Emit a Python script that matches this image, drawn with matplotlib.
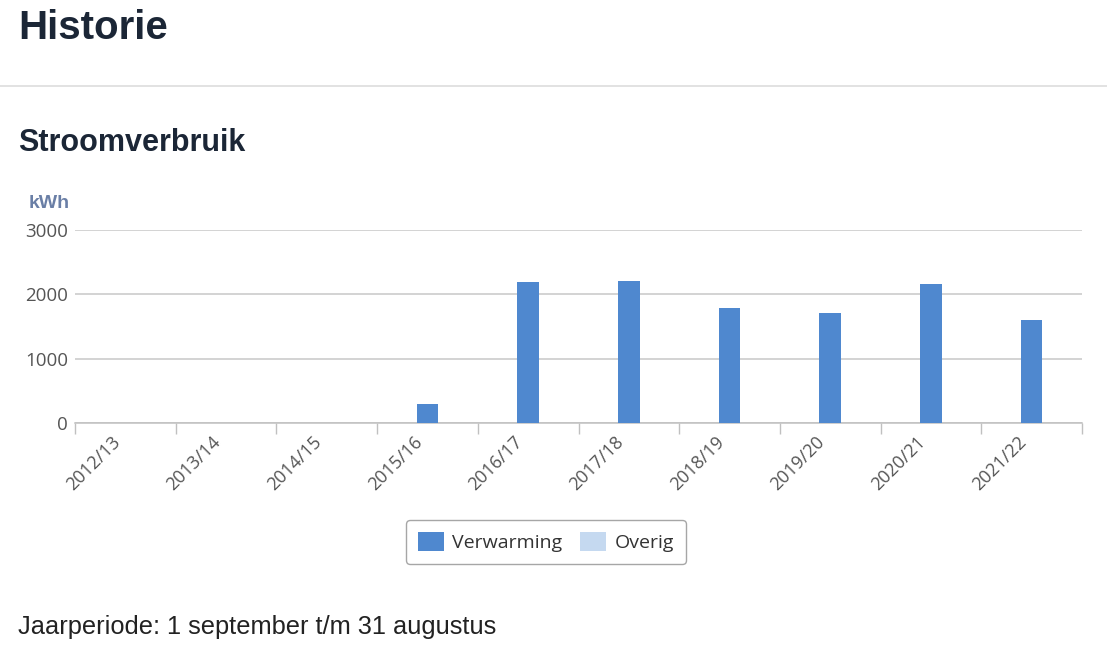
import matplotlib.pyplot as plt
from matplotlib.patches import Patch
import matplotlib.transforms as mtransforms
import numpy as np

# data
seasons = ["2012/13", "2013/14", "2014/15", "2015/16", "2016/17",
           "2017/18", "2018/19", "2019/20", "2020/21", "2021/22"]
verwarming = [0, 0, 0, 295, 2190, 2215, 1795, 1715, 2160, 1605]
overig = [0, 0, 0, 0, 0, 0, 0, 0, 0, 0]
y_ticks = [0, 1000, 2000, 3000]

blue = "#4f88cf"
light_blue = "#c5d9f0"
navy = "#1b2636"
grey_txt = "#555555"

plt.rcParams['font.family'] = ['Liberation Sans', 'DejaVu Sans']

fig = plt.figure(figsize=(11.07, 6.58), dpi=100)
W, H = 1107, 658

def fx(px):
    return px / W

def fy(py):
    return 1 - py / H

# header texts
fig.text(fx(18), fy(28), "Historie", fontsize=29, fontweight='bold',
         color=navy, ha='left', va='center')
fig.add_artist(plt.Line2D([0, 1], [fy(86), fy(86)], color="#dddddd", lw=1.2))
fig.text(fx(18), fy(143), "Stroomverbruik", fontsize=22, fontweight='bold',
         color=navy, ha='left', va='center')
fig.text(fx(49), fy(203), "kWh", fontsize=14, fontweight='bold',
         color="#6a7fa6", ha='center', va='center')

# chart area
ax = fig.add_axes([fx(75), fy(423), fx(1082) - fx(75), fy(230) - fy(423)])
x = np.arange(len(seasons))
ax.bar(x, verwarming, width=0.215, color=blue, zorder=3)
ax.bar(x, overig, width=0.215, bottom=verwarming, color=light_blue, zorder=3)

ax.set_xlim(-0.5, len(seasons) - 0.5)
ax.set_ylim(0, 3000)
ax.set_yticks(y_ticks)
ax.set_yticklabels([str(v) for v in y_ticks], fontsize=13.5, color=grey_txt,
                   family='Open Sans')
ax.tick_params(axis='y', length=0, pad=5)
ax.yaxis.grid(True, color="#c8c8c8", lw=1.1, zorder=0)

# category boundary ticks on x
ax.set_xticks(np.arange(len(seasons) + 1) - 0.5, minor=False)
ax.set_xticklabels([])
ax.tick_params(axis='x', which='major', length=8, color="#c0c0c0", width=1)
ax.set_xticks(x, minor=True)
ax.set_xticklabels(seasons, minor=True, rotation=45, ha='right', va='center',
                   rotation_mode='anchor', fontsize=13, color=grey_txt,
                   family='Open Sans')
ax.tick_params(axis='x', which='minor', length=0, pad=12)
shift = mtransforms.ScaledTranslation(-8 / 100, 0, fig.dpi_scale_trans)
for lbl in ax.get_xticklabels(minor=True):
    lbl.set_transform(lbl.get_transform() + shift)

for s in ['top', 'right', 'left']:
    ax.spines[s].set_visible(False)
ax.spines['bottom'].set_color("#c0c0c0")
ax.spines['bottom'].set_linewidth(1.1)

# legend
handles = [Patch(facecolor=blue, label="Verwarming"),
           Patch(facecolor=light_blue, label="Overig")]
leg = fig.legend(handles=handles, loc='center', bbox_to_anchor=(fx(546), fy(542)),
                 ncol=2, frameon=True, fontsize=14, handlelength=1.35,
                 handleheight=1.1, columnspacing=0.9, handletextpad=0.45,
                 borderpad=0.6, fancybox=True, prop={'family': 'Open Sans', 'size': 14})
leg.get_frame().set_edgecolor("#909090")
leg.get_frame().set_linewidth(1.0)
for t in leg.get_texts():
    t.set_color("#333333")

fig.text(fx(18), fy(627), "Jaarperiode: 1 september t/m 31 augustus",
         fontsize=18.3, color="#222222", ha='left', va='center')

fig.savefig("out.png", dpi=100)
